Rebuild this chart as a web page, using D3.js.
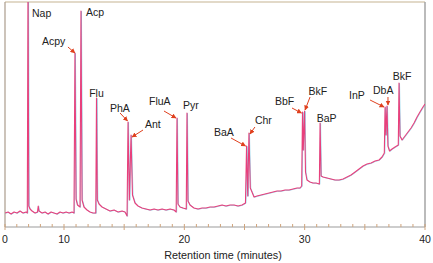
<!DOCTYPE html>
<html>
<head>
<meta charset="utf-8">
<script src="https://cdn.jsdelivr.net/npm/d3@7"></script>
<style>
  body { margin: 0; background: #fff; }
  text { font-family: "Liberation Sans", Arial, sans-serif; fill: #222; }
</style>
</head>
<body>
<div id="chart"></div>
<script>
// chromatogram trace: retention time (min) and detector signal (arbitrary units)
var traceTime = [0, 0.51, 1.02, 1.53, 2.03, 2.54, 3.05, 3.56, 3.78, 3.90, 4.03, 4.24, 4.58, 5.08, 5.51, 5.63, 5.76,
  6.27, 6.78, 7.29, 7.80, 8.31, 8.81, 9.32, 9.83, 10.17, 10.42, 10.66, 10.83, 10.91, 11.00, 11.12, 11.33, 11.41,
  11.50, 11.66, 11.91, 12.16, 12.41, 12.64, 12.70, 12.77, 12.91, 13.16, 13.49, 13.82, 14.16, 14.49, 14.82, 15.07,
  15.24, 15.32, 15.43, 15.57, 15.69, 15.90, 16.15, 16.48, 16.81, 17.15, 17.48, 17.81, 18.14, 18.48, 18.81, 19.14,
  19.32, 19.39, 19.47, 19.64, 19.89, 20.16, 20.22, 20.30, 20.47, 20.80, 21.14, 21.47, 21.80, 22.13, 22.47, 22.80,
  23.13, 23.46, 23.80, 24.13, 24.46, 24.79, 25.08, 25.17, 25.27, 25.37, 25.48, 25.62, 25.79, 26.04, 26.37, 26.70,
  27.04, 27.37, 27.70, 28.03, 28.37, 28.70, 29.03, 29.37, 29.61, 29.75, 29.82, 29.88, 29.99, 30.07, 30.19, 30.44,
  30.69, 30.94, 31.22, 31.28, 31.36, 31.53, 31.86, 32.19, 32.53, 32.86, 33.19, 33.52, 33.85, 34.19, 34.52, 34.85,
  35.18, 35.52, 35.85, 36.18, 36.43, 36.62, 36.68, 36.75, 36.84, 36.92, 37.05, 37.26, 37.51, 37.78, 37.84, 37.92,
  38.09, 38.34, 38.59, 38.84, 39.09, 39.34, 39.58, 39.83, 40.00];
var traceSignal = [14, 15, 13, 15, 14, 16, 14, 15, 14, 250, 21, 18, 16, 14, 15, 21, 16,
  14, 15, 13, 15, 14, 13, 15, 14, 15, 14, 15, 14, 174, 28, 22, 20, 216,
  27, 20, 17, 15, 14, 14, 129, 27, 23, 20, 18, 16, 17, 15, 16, 15,
  11, 105, 27, 92, 32, 24, 21, 19, 18, 17, 18, 17, 18, 17, 18, 17,
  15, 109, 23, 20, 19, 18, 114, 26, 22, 19, 18, 19, 19, 20, 20, 21,
  22, 21, 22, 22, 21, 22, 24, 81, 31, 94, 39, 35, 30, 31, 32, 33,
  34, 35, 36, 36, 37, 37, 38, 39, 39, 41, 115, 77, 116, 55, 47, 45,
  44, 44, 43, 104, 51, 50, 49, 48, 47, 47, 48, 50, 52, 55, 58, 61,
  63, 64, 66, 67, 70, 74, 120, 92, 121, 81, 76, 78, 80, 82, 144, 91,
  87, 91, 95, 99, 104, 110, 115, 120, 123];

// identified peaks
var peakNames = ["Nap", "Acpy", "Acp", "Flu", "PhA", "Ant", "FluA", "Pyr", "BaA", "Chr", "BbF", "BkF", "BaP", "InP", "DbA", "BkF"];
var peakTimes = [3.90, 10.91, 11.41, 12.70, 15.32, 15.57, 19.39, 20.22, 25.17, 25.37, 29.82, 29.99, 31.28, 36.68, 36.84, 37.84];
var peakHeights = [250, 174, 216, 129, 105, 92, 109, 114, 81, 94, 115, 116, 104, 120, 121, 144];

var majorTicks = [0, 10, 20, 30, 40];
var minorTicks = [0, 2, 4, 6, 8].concat(d3.range(10, 41, 1));

// label placement (px from apex) and arrows [tailX, tailY, tipX, tipY]
var labelLayout = [
  {dx: 4, dy: 15, anchor: "start"},
  {dx: -33, dy: -8, anchor: "start", arrow: [-7, -6, 0, 0]},
  {dx: 5, dy: 5, anchor: "start"},
  {dx: 0, dy: -1, anchor: "middle"},
  {dx: -18, dy: -10, anchor: "start", arrow: [-8, -9, -0.5, -1]},
  {dx: 14, dy: -7.5, anchor: "start", arrow: [12, -5, 1, 2]},
  {dx: -28, dy: -13.5, anchor: "start", arrow: [-13, -7, -1, 0]},
  {dx: -4, dy: -4, anchor: "start"},
  {dx: -32.5, dy: -10, anchor: "start", arrow: [-15.5, -8, -1, 0]},
  {dx: 6, dy: -9.5, anchor: "start", arrow: [6, -6, 1, 1]},
  {dx: -27.5, dy: -7, anchor: "start", arrow: [-10.5, -4, -1, 1]},
  {dx: 4, dy: -16, anchor: "start", arrow: [5.5, -14, 0.5, -1]},
  {dx: -3.3, dy: -1.5, anchor: "start"},
  {dx: -36, dy: -8, anchor: "start", arrow: [-15, -7, -1, 0]},
  {dx: -14, dy: -12.5, anchor: "start", arrow: [1, -9, 1, -1]},
  {dx: -6.3, dy: -3, anchor: "start"}
];

var width = 433, height = 263;
var plot = {left: 5, right: 425, top: 2, bottom: 227};

var svg = d3.select("#chart")
  .append("svg")
  .attr("width", width)
  .attr("height", height);

// x axis is compressed over the first 10 minutes
var x = d3.scaleLinear()
  .domain([0, 10, 40])
  .range([plot.left, 64, plot.right]);

var y = d3.scaleLinear()
  .domain([0, 225])
  .range([plot.bottom, plot.top]);

svg.append("defs").append("clipPath")
  .attr("id", "clip")
  .append("rect")
  .attr("x", plot.left)
  .attr("y", plot.top)
  .attr("width", plot.right - plot.left)
  .attr("height", plot.bottom - plot.top);

svg.select("defs").append("marker")
  .attr("id", "head")
  .attr("viewBox", "0 0 10 10")
  .attr("refX", 9)
  .attr("refY", 5)
  .attr("markerWidth", 5)
  .attr("markerHeight", 5)
  .attr("orient", "auto")
  .append("path")
  .attr("d", "M0,0L10,5L0,10z")
  .attr("fill", "#e0401e");

// frame
svg.append("line").attr("x1", plot.left).attr("x2", plot.right).attr("y1", plot.top).attr("y2", plot.top)
  .attr("stroke", "#d8cdb6").attr("stroke-width", 1.5);
svg.append("line").attr("x1", plot.left).attr("x2", plot.left).attr("y1", plot.top).attr("y2", plot.bottom)
  .attr("stroke", "#ab9c8c").attr("stroke-width", 1.2);
svg.append("line").attr("x1", plot.right).attr("x2", plot.right).attr("y1", plot.top).attr("y2", plot.bottom)
  .attr("stroke", "#a4a4a4").attr("stroke-width", 1.5);

// bottom axis
var xAxis = svg.append("g")
  .attr("transform", "translate(0," + plot.bottom + ")");
xAxis.append("line")
  .attr("x1", plot.left).attr("x2", plot.right)
  .attr("stroke", "#9c9c9c").attr("stroke-width", 1.2);
xAxis.selectAll(".minor")
  .data(minorTicks)
  .enter()
  .append("line")
  .attr("x1", function(d) { return x(d); })
  .attr("x2", function(d) { return x(d); })
  .attr("y1", function(d) { return d % 5 === 0 ? 3 : 0; })
  .attr("y2", -3)
  .attr("stroke", "#cfa47c")
  .attr("stroke-width", 1);
xAxis.selectAll(".lbl")
  .data(majorTicks)
  .enter()
  .append("text")
  .attr("x", function(d) { return x(d); })
  .attr("y", 15.5)
  .attr("text-anchor", "middle")
  .style("font-size", "10.5px")
  .text(function(d) { return d; });

svg.append("text")
  .attr("x", 223)
  .attr("y", 259)
  .attr("text-anchor", "middle")
  .style("font-size", "10.8px")
  .text("Retention time (minutes)");

// trace
var line = d3.line()
  .x(function(d, i) { return x(traceTime[i]); })
  .y(function(d) { return y(d); });

var traceG = svg.append("g").attr("clip-path", "url(#clip)");
traceG.append("path")
  .datum(traceSignal)
  .attr("fill", "none")
  .attr("stroke", "#6cc8e6")
  .attr("stroke-width", 1)
  .attr("stroke-opacity", 0.7)
  .attr("transform", "translate(0.5,0.3)")
  .attr("d", line);
traceG.append("path")
  .datum(traceSignal)
  .attr("fill", "none")
  .attr("stroke", "#e8407c")
  .attr("stroke-width", 1.1)
  .attr("stroke-linejoin", "round")
  .attr("d", line);

// peak labels and arrows
function apex(i) {
  return [x(peakTimes[i]), Math.max(y(peakHeights[i]), plot.top)];
}

peakNames.forEach(function(name, i) {
  var p = apex(i), l = labelLayout[i];
  svg.append("text")
    .attr("x", p[0] + l.dx)
    .attr("y", p[1] + l.dy)
    .attr("text-anchor", l.anchor)
    .style("font-size", "10.5px")
    .text(name);
  if (l.arrow) {
    svg.append("line")
      .attr("x1", p[0] + l.arrow[0])
      .attr("y1", p[1] + l.arrow[1])
      .attr("x2", p[0] + l.arrow[2])
      .attr("y2", p[1] + l.arrow[3])
      .attr("stroke", "#e0401e")
      .attr("stroke-width", 1)
      .attr("marker-end", "url(#head)");
  }
});
</script>
</body>
</html>
